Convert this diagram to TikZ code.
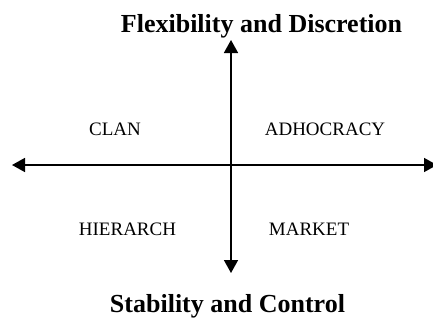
\documentclass[tikz,border=0pt]{standalone}
\usepackage{fontspec}
\setmainfont{Liberation Serif}
\usetikzlibrary{arrows.meta,positioning}
\tikzstyle{quadrant}  = [font=\fontsize{19}{22}\selectfont, anchor=base, inner sep=0]
\tikzstyle{axislabel} = [font=\fontsize{26}{30}\selectfont\bfseries, anchor=base, inner sep=0]
\tikzstyle{axis}      = [line width=1.6pt, {Triangle[length=13pt,width=14pt]}-{Triangle[length=13pt,width=14pt]}]

\begin{document}
\begin{tikzpicture}[x=1pt,y=-1pt]
        \useasboundingbox (0,0) rectangle (433,322);
        \coordinate (top) at (231,40);
        \coordinate (bottom) at (231,273);
        \coordinate (left) at (12,165);
        \coordinate (right) at (437,165);

        \node (flex) [axislabel] at (261.5,32) {Flexibility and Discretion};
        \node (stab) [axislabel] at (227.5,312) {Stability and Control};

        \node (clan) [quadrant] at (115,135) {CLAN};
        \node (adhocracy) [quadrant] at (325,135) {ADHOCRACY};
        \node (hierarch) [quadrant] at (127.5,235) {HIERARCH};
        \node (market) [quadrant] at (309,235) {MARKET};

        \draw [axis] (bottom) -- (top);
        \draw [axis] (left) -- (right);
    \end{tikzpicture}
\end{document}
